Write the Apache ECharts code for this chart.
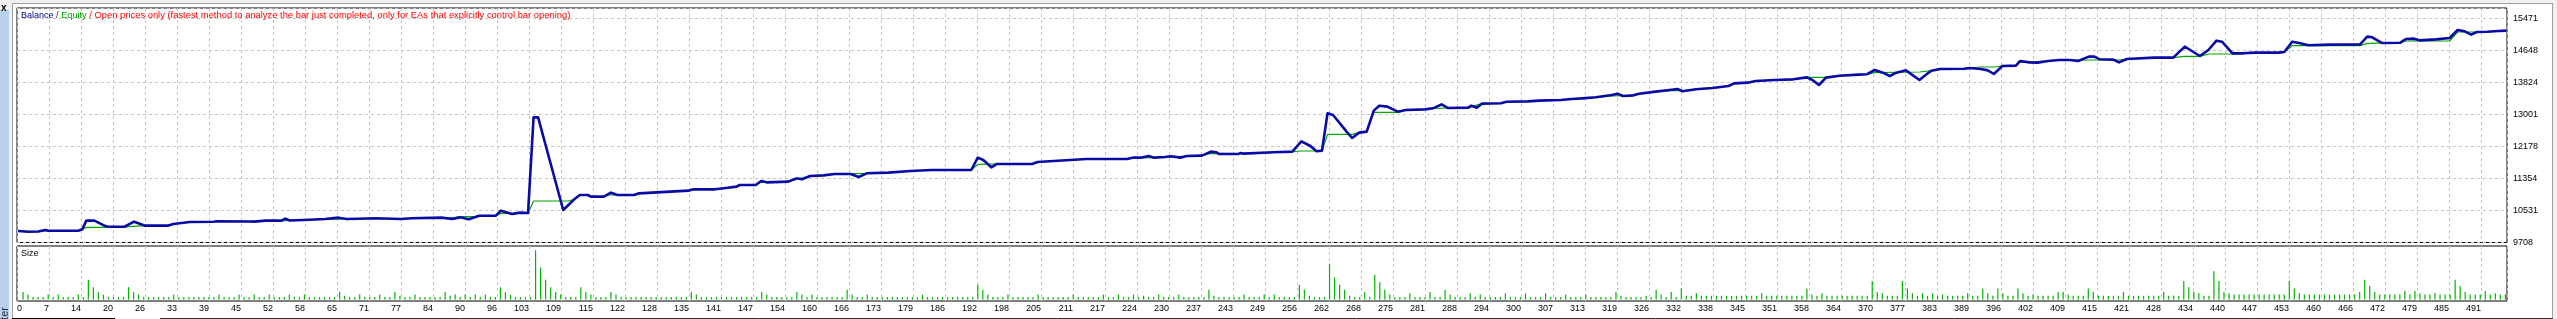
<!DOCTYPE html>
<html><head><meta charset="utf-8">
<script src="https://cdn.jsdelivr.net/npm/echarts@6/dist/echarts.min.js"></script>
<style>html,body{margin:0;padding:0;background:#fff;overflow:hidden}#c{width:2557px;height:319px}</style>
</head><body><div id="c"></div><script>
// ---- data ----
const xLabels = [0,7,14,20,26,33,39,45,52,58,65,71,77,84,90,96,103,109,115,122,128,135,141,147,154,160,166,173,179,186,192,198,205,211,217,224,230,237,243,249,256,262,268,275,281,288,294,300,307,313,319,326,332,338,345,351,358,364,370,377,383,389,396,402,409,415,421,428,434,440,447,453,460,466,472,479,485,491];
const yTicks = [9708,10531,11354,12178,13001,13824,14648,15471];

// [trade number, balance]
const balance = [[0,10004],[2,9985],[4,9990],[5.5,10030],[6,10012],[12,10012],[12.8,10047],[13.6,10270],[15.2,10270],[17.4,10130],[18,10115],[21.2,10115],[23.1,10244],[25.3,10141],[29.8,10141],[30.9,10184],[33,10218],[34.1,10235],[39,10240],[39.5,10253],[46,10250],[47.1,10245],[49.2,10270],[52.5,10270],[53.2,10321],[54.1,10275],[56.8,10287],[61.1,10313],[63.8,10347],[65.4,10313],[67.6,10320],[71.3,10330],[76.2,10313],[78.3,10330],[84.3,10347],[86.4,10313],[88,10355],[89.7,10304],[91.8,10398],[95.1,10398],[96.1,10527],[98.3,10440],[99.9,10476],[101.5,10467],[102.6,12928],[103.5,12928],[108.5,10544],[110.7,10819],[111.8,10930],[113.4,10930],[114,10887],[116.6,10887],[118,10990],[119.3,10930],[122.6,10930],[123.6,10973],[133.4,11042],[134.4,11076],[138.7,11076],[140.9,11110],[143,11145],[143.6,11187],[146.8,11187],[147.9,11290],[149,11256],[153.3,11273],[154.9,11359],[156,11333],[157.6,11419],[160.3,11436],[162.5,11470],[165.7,11470],[167.3,11393],[168.9,11488],[173.2,11505],[177.6,11548],[181.9,11573],[189.7,11573],[191,11891],[192.1,11831],[193.7,11642],[194.8,11728],[201.8,11728],[202.9,11779],[206.1,11805],[209.4,11831],[212.6,11856],[220.7,11856],[221.8,11891],[223.4,11891],[225,11933],[226.1,11891],[228.2,11908],[229.5,11925],[231.3,11891],[232.6,11933],[235.6,11942],[237.4,12045],[238.5,12028],[239,11985],[242.8,11985],[243.4,12011],[243.9,11994],[249.8,12028],[253.6,12045],[255.4,12311],[257.2,12191],[258.4,12054],[259.5,12071],[260.6,13031],[261.7,12988],[264.4,12560],[265.5,12397],[266.9,12534],[268.4,12560],[269.8,13100],[270.9,13228],[272.5,13203],[274.6,13074],[276.2,13117],[280,13134],[281.6,13160],[283.3,13263],[284.6,13168],[288.6,13177],[289.2,13228],[290.3,13177],[291.3,13280],[295.1,13289],[296.2,13331],[300.5,13340],[302.7,13357],[307,13374],[309.2,13400],[311.3,13417],[314,13443],[317.2,13503],[318.3,13537],[319.4,13477],[321.5,13494],[322.6,13537],[325.9,13589],[329.1,13640],[330.2,13657],[331.3,13600],[333.9,13649],[337.2,13683],[340.4,13734],[341.5,13803],[344.2,13820],[345.8,13863],[349.6,13889],[353.3,13906],[356,13957],[357.1,13889],[358.4,13760],[359.8,13949],[362.5,14000],[366.3,14026],[367.9,14035],[369.5,14146],[371.1,14078],[372.5,13992],[373.8,14078],[375.7,14137],[377.1,14009],[378.4,13889],[379.8,14035],[380.8,14129],[382.5,14172],[387.3,14180],[388.4,14198],[390.6,14172],[392,14137],[393.2,14043],[394.9,14249],[397.6,14258],[398.4,14378],[400.3,14343],[401.9,14335],[404,14378],[406.2,14403],[408.3,14403],[410,14378],[412.1,14489],[413.2,14489],[414.3,14421],[417,14412],[418.1,14343],[419.7,14429],[425.1,14464],[428.9,14464],[431.2,14746],[432.6,14635],[434.2,14506],[435.9,14661],[437.5,14901],[438.6,14875],[440.7,14575],[442.9,14575],[445,14592],[449.9,14592],[451,14609],[452.6,14875],[454.2,14832],[455.8,14781],[460.1,14798],[466.1,14806],[467.5,15004],[468.5,14987],[470.4,14841],[474.1,14849],[475.2,14944],[476.8,14952],[477.9,14909],[481.2,14935],[483.9,14969],[485.5,15175],[486.9,15141],[488.2,15055],[489.3,15124],[491.4,15132],[493.6,15150],[495.2,15158]];

// [trade number, equity]
const equity = [[0,10004],[4,9990],[5.5,10012],[12,10012],[12.8,10047],[13.6,10098],[21.2,10098],[22,10115],[25.3,10141],[29.8,10141],[30.9,10184],[33,10218],[34.1,10235],[39,10240],[39.5,10253],[46,10250],[49.2,10270],[52.5,10270],[54.1,10275],[56.8,10287],[61.1,10300],[65.4,10313],[67.6,10320],[71.3,10330],[76.2,10313],[78.3,10330],[84.3,10347],[86.4,10340],[88,10373],[91,10373],[91.8,10398],[95.1,10398],[96.1,10458],[101.5,10458],[102.6,10776],[109.5,10776],[110.7,10819],[111.8,10930],[113.4,10930],[114,10887],[116.6,10887],[117.5,10930],[122.6,10930],[123.6,10973],[133.4,11042],[134.4,11076],[138.7,11076],[140.9,11110],[143,11145],[143.6,11187],[146.8,11187],[147.9,11256],[153.3,11273],[154.9,11333],[157.6,11419],[160.3,11436],[162.5,11470],[165.7,11479],[168.9,11488],[173.2,11505],[177.6,11548],[181.9,11573],[189.7,11573],[191,11719],[194.8,11728],[201.8,11728],[202.9,11779],[206.1,11805],[209.4,11831],[212.6,11856],[220.7,11856],[221.8,11880],[228.2,11900],[232.6,11933],[235.6,11942],[237.4,12002],[242.8,11994],[249.8,12028],[253.6,12045],[255.4,12062],[259.5,12062],[260.6,12491],[265.5,12491],[266.9,12534],[268.4,12560],[269.8,13057],[274.6,13057],[276.2,13117],[280,13134],[281.6,13160],[284.6,13168],[288.6,13177],[291.3,13280],[295.1,13289],[296.2,13331],[300.5,13340],[302.7,13357],[307,13374],[309.2,13400],[311.3,13417],[314,13443],[317.2,13477],[321.5,13494],[322.6,13537],[325.9,13589],[329.1,13614],[331.3,13614],[333.9,13649],[337.2,13683],[340.4,13734],[341.5,13803],[344.2,13820],[345.8,13863],[349.6,13889],[353.3,13906],[356,13957],[359.8,13957],[362.5,14000],[366.3,14026],[367.9,14035],[369.5,14078],[378.4,14095],[380.8,14129],[382.5,14172],[387.3,14180],[388.4,14198],[390.6,14223],[393.2,14223],[394.9,14249],[397.6,14258],[398.4,14343],[404,14378],[406.2,14403],[418.1,14403],[419.7,14429],[425.1,14464],[428.9,14464],[431.2,14498],[434.2,14498],[435.9,14558],[440.7,14558],[442.9,14575],[449.9,14592],[451,14609],[452.6,14772],[466.1,14772],[467.5,14832],[474.1,14849],[475.2,14892],[483.9,14892],[485.5,15124],[489.3,15124],[491.4,15132],[495.2,15158]];

// lot size of trades 1..495
const sizes = [
0.3,0.2,0.1,0.1,0.1,0.2,0.1,0.2,0.1,0.1,
0.1,0.2,0.1,0.8,0.5,0.3,0.2,0.1,0.1,0.1,
0.1,0.5,0.3,0.2,0.1,0.1,0.1,0.1,0.1,0.1,
0.2,0.1,0.1,0.1,0.1,0.1,0.1,0.1,0.1,0.2,
0.1,0.1,0.1,0.2,0.1,0.1,0.2,0.1,0.1,0.2,
0.1,0.1,0.1,0.2,0.1,0.1,0.2,0.1,0.1,0.1,
0.1,0.1,0.1,0.3,0.15,0.1,0.1,0.2,0.1,0.1,
0.1,0.2,0.1,0.1,0.3,0.15,0.1,0.1,0.2,0.1,
0.1,0.1,0.1,0.1,0.3,0.15,0.2,0.1,0.2,0.1,
0.2,0.1,0.2,0.1,0.1,0.5,0.3,0.2,0.1,0.1,
0.1,0.1,2.0,1.3,0.8,0.5,0.3,0.2,0.1,0.1,
0.1,0.5,0.3,0.2,0.1,0.1,0.1,0.3,0.2,0.1,
0.1,0.1,0.1,0.1,0.1,0.1,0.1,0.1,0.1,0.1,
0.1,0.1,0.1,0.3,0.2,0.1,0.1,0.1,0.1,0.1,
0.1,0.1,0.1,0.1,0.1,0.1,0.1,0.3,0.2,0.1,
0.1,0.1,0.1,0.1,0.3,0.2,0.1,0.2,0.1,0.1,
0.1,0.1,0.1,0.1,0.4,0.2,0.1,0.1,0.2,0.1,
0.1,0.1,0.1,0.1,0.1,0.1,0.1,0.1,0.1,0.2,
0.1,0.1,0.1,0.1,0.1,0.1,0.1,0.1,0.1,0.1,
0.6,0.4,0.2,0.1,0.1,0.1,0.2,0.1,0.1,0.1,
0.1,0.1,0.2,0.1,0.1,0.1,0.1,0.1,0.1,0.2,
0.1,0.1,0.1,0.1,0.1,0.2,0.1,0.1,0.2,0.1,
0.1,0.2,0.1,0.15,0.1,0.1,0.2,0.1,0.1,0.1,
0.2,0.1,0.1,0.1,0.1,0.1,0.4,0.15,0.1,0.1,
0.1,0.1,0.1,0.2,0.1,0.1,0.1,0.2,0.1,0.2,
0.1,0.1,0.1,0.1,0.6,0.4,0.15,0.1,0.1,0.1,
1.45,0.9,0.6,0.4,0.15,0.1,0.1,0.3,0.1,1.0,
0.7,0.4,0.2,0.1,0.1,0.1,0.25,0.1,0.1,0.1,
0.3,0.1,0.1,0.4,0.2,0.1,0.1,0.1,0.25,0.1,
0.2,0.1,0.1,0.1,0.1,0.25,0.1,0.1,0.1,0.25,
0.1,0.1,0.1,0.25,0.1,0.1,0.1,0.2,0.1,0.1,
0.1,0.2,0.1,0.1,0.1,0.1,0.1,0.3,0.15,0.1,
0.1,0.1,0.1,0.15,0.1,0.4,0.2,0.1,0.3,0.1,
0.45,0.15,0.15,0.25,0.15,0.15,0.15,0.15,0.15,0.15,
0.15,0.15,0.15,0.15,0.15,0.15,0.25,0.15,0.15,0.15,
0.15,0.15,0.15,0.15,0.15,0.45,0.2,0.15,0.25,0.15,
0.15,0.15,0.15,0.15,0.15,0.15,0.15,0.15,0.75,0.3,
0.25,0.15,0.15,0.15,0.75,0.45,0.25,0.15,0.25,0.15,
0.25,0.15,0.2,0.15,0.15,0.15,0.15,0.25,0.15,0.15,
0.45,0.25,0.15,0.45,0.25,0.15,0.15,0.45,0.25,0.15,
0.2,0.15,0.15,0.15,0.15,0.3,0.3,0.2,0.15,0.15,
0.15,0.45,0.3,0.15,0.15,0.15,0.15,0.15,0.3,0.15,
0.15,0.15,0.15,0.15,0.15,0.15,0.3,0.15,0.15,0.15,
0.75,0.5,0.3,0.25,0.15,0.15,1.15,0.75,0.3,0.25,
0.2,0.2,0.2,0.2,0.2,0.2,0.2,0.2,0.2,0.2,
0.2,0.75,0.45,0.25,0.2,0.2,0.2,0.2,0.2,0.2,
0.2,0.2,0.2,0.2,0.2,0.3,0.8,0.55,0.3,0.2,
0.2,0.2,0.2,0.2,0.35,0.2,0.35,0.25,0.2,0.2,
0.25,0.2,0.2,0.2,0.8,0.55,0.3,0.2,0.2,0.2,
0.35,0.2,0.25,0.2,0.2];

// ---- layout ----
const PL = 17, PW = 2490, MT = 8, MH = 234.5, ST = 246, SH = 55;
const GRID_PX = 32;               // pixel spacing of MT4 grid cells
const TRADE_PX = 5.025;           // pixel spacing of one trade
const X_MIN = -0.2, X_MAX = X_MIN + PW / TRADE_PX;
const Y_STEP = (yTicks[yTicks.length - 1] - yTicks[0]) / (yTicks.length - 1);
const GY = MH / GRID_PX, GX = PW / GRID_PX;
const Y_MIN = yTicks[0], Y_MAX = Y_MIN + GY * Y_STEP;

const FONT = 'Liberation Sans';
const gridLine = {show: true, lineStyle: {color: '#c4c4c4', width: 1, type: [3, 3]}};
const isIdx = v => Math.abs(v - Math.round(v)) < 1e-6;
const rs = (c, s) => ({color: c, fontSize: s, fontFamily: FONT, fontWeight: 'normal'});

const chart = echarts.init(document.getElementById('c'), null, {renderer: 'canvas'});
chart.setOption({
  animation: false,
  backgroundColor: '#ffffff',
  textStyle: {fontFamily: FONT},
  title: [
    {left: 21, top: 10, padding: 0, text: '{b|Balance}{d| / }{e|Equity}{r| / Open prices only (fastest method to analyze the bar just completed, only for EAs that explicitly control bar opening)}',
     textStyle: {fontSize: 9, fontFamily: FONT, fontWeight: 'normal', lineHeight: 11, rich: {
       b: rs('#000090', 9), d: rs('#303060', 9.2), e: rs('#00a000', 9.2), r: rs('#ff0000', 9.4)}}},
    {left: 21, top: 248.5, padding: 0, text: 'Size', textStyle: {fontSize: 9, fontFamily: FONT, color: '#000', fontWeight: 'normal', lineHeight: 11}}
  ],
  grid: [
    {left: PL, top: MT, width: PW, height: MH, show: true, borderColor: '#000', borderWidth: 1, backgroundColor: '#fff'},
    {left: PL, top: ST, width: PW, height: SH, show: true, borderColor: '#000', borderWidth: 1, backgroundColor: '#fff'}
  ],
  xAxis: [
    {gridIndex: 0, type: 'value', min: 0, max: GX, interval: 1, axisLine: {show: false}, axisTick: {show: false}, axisLabel: {show: false}, splitLine: gridLine},
    {gridIndex: 1, type: 'value', min: 0, max: GX, interval: 1, axisLine: {show: false}, axisTick: {show: false}, splitLine: gridLine,
     axisLabel: {show: true, fontSize: 9, fontFamily: FONT, color: '#000', margin: 3, align: 'right', alignMinLabel: 'left', showMaxLabel: false,
       formatter: v => (isIdx(v) && Math.round(v) < xLabels.length) ? String(xLabels[Math.round(v)]) : ''}},
    {gridIndex: 0, type: 'value', min: X_MIN, max: X_MAX, show: false},
    {gridIndex: 1, type: 'value', min: X_MIN, max: X_MAX, show: false}
  ],
  yAxis: [
    {gridIndex: 0, type: 'value', position: 'right', min: 0, max: GY, interval: 1, axisLine: {show: false}, axisTick: {show: false}, splitLine: gridLine,
     axisLabel: {show: true, fontSize: 9, fontFamily: FONT, color: '#000', margin: 6, align: 'left', padding: [2, 0, 0, 0], showMaxLabel: false,
       formatter: v => (isIdx(v) && Math.round(v) < yTicks.length) ? String(yTicks[Math.round(v)]) : ''}},
    {gridIndex: 0, type: 'value', min: Y_MIN, max: Y_MAX, show: false},
    {gridIndex: 1, type: 'value', min: -0.06, max: 2.17, show: false}
  ],
  series: [
    {type: 'line', name: 'Equity', xAxisIndex: 2, yAxisIndex: 1, data: equity, symbol: 'none', silent: true,
     lineStyle: {color: '#00a800', width: 1.2}},
    {type: 'line', name: 'Balance', xAxisIndex: 2, yAxisIndex: 1, data: balance, symbol: 'none', silent: true,
     lineStyle: {color: '#0a0aa6', width: 2.6, join: 'round'}},
    {type: 'bar', name: 'Size', xAxisIndex: 3, yAxisIndex: 2, data: sizes.map((v, i) => [i + 1, v]), barWidth: 1.2, silent: true,
     itemStyle: {color: '#00b400'}}
  ],
  graphic: [
    {type: 'rect', silent: true, shape: {x: 0, y: 0, width: 2557, height: 3}, style: {fill: '#f0f0f0'}},
    {type: 'rect', silent: true, shape: {x: 0, y: 0, width: 12, height: 319}, style: {fill: '#f0f0f0'}},
    {type: 'rect', silent: true, shape: {x: 0, y: 10, width: 9, height: 309}, style: {fill: '#b9d1ea'}},
    {type: 'rect', silent: true, shape: {x: 2553, y: 0, width: 4, height: 319}, style: {fill: '#f0f0f0'}},
    {type: 'line', silent: true, shape: {x1: 12.5, y1: 3, x2: 12.5, y2: 318}, style: {stroke: '#a0a0a0', lineWidth: 1}},
    {type: 'line', silent: true, shape: {x1: 12, y1: 3.5, x2: 2553, y2: 3.5}, style: {stroke: '#a0a0a0', lineWidth: 1}},
    {type: 'line', silent: true, shape: {x1: 2552.5, y1: 3, x2: 2552.5, y2: 318}, style: {stroke: '#a0a0a0', lineWidth: 1}},
    {type: 'line', silent: true, shape: {x1: 12, y1: 318.5, x2: 115, y2: 318.5}, style: {stroke: '#000', lineWidth: 1}},
    {type: 'line', silent: true, shape: {x1: 160, y1: 318.5, x2: 2553, y2: 318.5}, style: {stroke: '#303030', lineWidth: 1}},
    {type: 'text', silent: true, x: 1, y: 3, style: {text: 'x', font: 'bold 10px ' + FONT, fill: '#000'}},
    {type: 'text', silent: true, x: 4.5, y: 337, rotation: Math.PI / 2, style: {text: 'Tester', font: '11px ' + FONT, fill: '#1e2a40', textAlign: 'left', textVerticalAlign: 'middle', verticalAlign: 'middle'}}
  ]
});
</script></body></html>
